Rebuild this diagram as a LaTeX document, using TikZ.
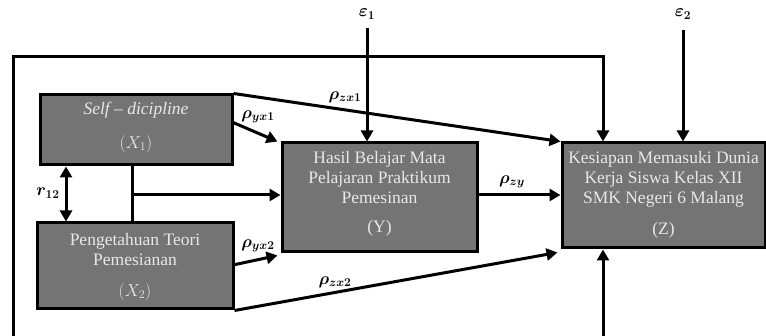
\documentclass[tikz,border=0pt]{standalone}
\usepackage{fontspec}
\setmainfont{Liberation Serif}
\usepackage{bm}
\usetikzlibrary{arrows.meta,calc}
\definecolor{boxgray}{HTML}{747474}
\definecolor{boxtext}{HTML}{E8E8E8}
\begin{document}
\begin{tikzpicture}[x=1pt,y=-1pt,
  vbox/.style={draw=black, line width=3pt, fill=boxgray, rectangle, inner sep=0pt},
  btext/.style={text=boxtext, font=\fontsize{17.5}{20}\selectfont, align=center, inner sep=0pt},
  wire/.style={line width=3pt},
  conn/.style={line width=3pt, -{Triangle[length=11pt,width=12pt]}},
  lbl/.style={font=\fontsize{18}{20}\selectfont, inner sep=0pt}]
\useasboundingbox (0,0) rectangle (766,336);

% boxes
\node[vbox, minimum width=192pt, minimum height=70pt] (x1) at (136,130) {};
\node[vbox, minimum width=196pt, minimum height=86pt] (x2) at (135,266) {};
\node[vbox, minimum width=195pt, minimum height=109pt] (y) at (379.5,197.5) {};
\node[vbox, minimum width=203pt, minimum height=105pt] (z) at (663.5,195.5) {};

% box texts
\node[btext] (x1t) at (136,110) {\textit{Self – dicipline}};
\node[btext] (x1v) at (136,144) {$\mathsf{}(X_1)$};
\node[btext] (x2t) at (135,250) {Pengetahuan Teori\\Pemesianan};
\node[btext] (x2v) at (135,292) {$(X_2)$};
\node[btext] (yt) at (379.5,178) {Hasil Belajar Mata\\Pelajaran Praktikum\\Pemesinan};
\node[btext] (yv) at (379.5,228) {(Y)};
\node[btext] (zt) at (663.5,179) {Kesiapan Memasuki Dunia\\Kerja Siswa Kelas XII\\SMK Negeri 6 Malang};
\node[btext] (zv) at (663.5,230) {(Z)};

% error terms
\node[lbl] (e1) at (367,14) {$\bm{\varepsilon_1}$};
\node[lbl] (e2) at (683,14) {$\bm{\varepsilon_2}$};
\coordinate (e1s) at (367,28);
\coordinate (e2s) at (683,30);
\draw[conn] (e1s) -- (e1s |- y.north);
\draw[conn] (e2s) -- (e2s |- z.north);

% outer frame
\coordinate (fbl) at (13,345);
\coordinate (ftr) at (603,57);
\coordinate (fbr) at (603,345);
\draw[conn] (fbl) |- (ftr) -- (ftr |- z.north);
\draw[wire] (fbl) -- (fbr);
\draw[conn] (fbr) -- (fbr |- z.south);

% X1 paths
\draw[conn] (x1.north east) -- (z.north west);
\coordinate (x1r) at ($(x1.north east)!0.4!(x1.south east)$);
\draw[conn] (x1r) -- ($(y.north west)+(-3,0)$);

% joint branch
\coordinate (bx) at (132,0);
\draw[wire] (bx |- x1.south) -- (bx |- x2.north);
\coordinate (br) at (132,195);
\draw[conn] (br) -- (br -| y.west);

% correlation
\coordinate (rx) at (66,0);
\draw[line width=3pt, {Triangle[length=11pt,width=12pt]}-{Triangle[length=11pt,width=12pt]}] (rx |- x1.south) -- (rx |- x2.north);

% X2 paths
\coordinate (x2r) at (233,265);
\draw[conn] (x2r) -- ($(y.south west)+(-3,2)$);
\draw[conn] (x2.south east) -- ($(z.south west)+(-3,3)$);

% Y to Z
\draw[conn] (y.east |- br) -- (br -| z.west);

% labels
\node[lbl] (lzx1) at (345,97) {$\bm{\rho_{zx1}}$};
\node[lbl] (lyx1) at (258,117) {$\bm{\rho_{yx1}}$};
\node[lbl] (lyx2) at (258,246) {$\bm{\rho_{yx2}}$};
\node[lbl] (lzx2) at (335,282) {$\bm{\rho_{zx2}}$};
\node[lbl] (lzy) at (512,182) {$\bm{\rho_{zy}}$};
\node[lbl] (lr) at (48,193) {$\bm{r_{12}}$};
\end{tikzpicture}
\end{document}
